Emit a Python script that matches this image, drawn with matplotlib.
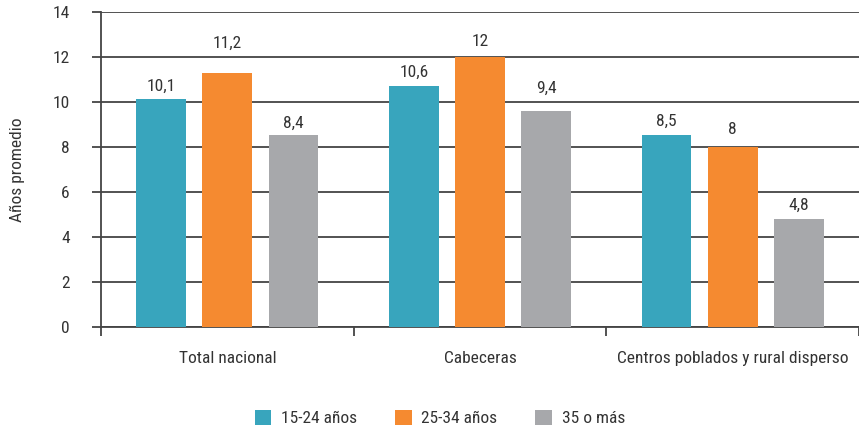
import numpy as np
import matplotlib.pyplot as plt
from matplotlib import rc, font_manager

nombres = sorted({f.name for f in font_manager.fontManager.ttflist})
narrow = [n for n in ['Liberation Sans Narrow', 'DejaVu Sans Condensed', 'Roboto Condensed',
                      'Open Sans Condensed'] if n in nombres]
rc('font', family=narrow + ['Liberation Sans', 'DejaVu Sans'])

categorias = ['Total nacional', 'Cabeceras', 'Centros poblados y rural disperso']
series = ['15-24 años', '25-34 años', '35 o más']
valores = [
    [10.15, 10.7, 8.55],   # 15-24 años
    [11.3, 12.0, 7.98],    # 25-34 años
    [8.55, 9.58, 4.8],     # 35 o más
]
etiquetas = [
    ['10,1', '10,6', '8,5'],
    ['11,2', '12', '8'],
    ['8,4', '9,4', '4,8'],
]
# separación de cada etiqueta sobre su barra (px), como en el original
sep_etiq = [
    [5, 6, 6],
    [22, 8, 10],
    [4, 16, 6],
]
colores = ['#38a5bd', '#f58a30', '#a7a8ab']
txt = '#333333'
linea = '#444444'
fs = 12.5

fig = plt.figure(figsize=(8.59, 4.34), dpi=100)
fig.patch.set_facecolor('white')
ax = fig.add_axes([0.1176, 0.2465, 0.8824, 0.7259])

x = np.arange(len(categorias))
ancho = 0.197
paso = 0.262
for i, (vals, labs, col) in enumerate(zip(valores, etiquetas, colores)):
    pos = x + (i - 1) * paso
    ax.bar(pos, vals, width=ancho, color=col, label=series[i], zorder=3)
    for p, v, l, s in zip(pos, vals, labs, sep_etiq[i]):
        ax.annotate(l, (p, v), xytext=(0, s * 0.72), textcoords='offset points',
                    ha='center', va='bottom', fontsize=fs, color=txt)

ax.set_ylim(0, 14)
ax.set_xlim(-0.5, 2.5)
ax.set_yticks(range(0, 15, 2))
ax.yaxis.grid(True, color=linea, linewidth=1.3, zorder=0)
ax.tick_params(axis='y', length=6.5, width=1.3, color=linea, labelsize=fs,
               labelcolor=txt, pad=16)
ax.set_xticks(x)
ax.set_xticklabels(categorias)
ax.tick_params(axis='x', which='major', length=0, labelsize=fs, labelcolor=txt, pad=17)
ax.set_xticks([-0.5, 0.5, 1.5, 2.5], minor=True)
ax.tick_params(axis='x', which='minor', length=6.5, width=1.3, color=linea)

for s in ['top', 'right']:
    ax.spines[s].set_visible(False)
ax.spines['left'].set_color(linea)
ax.spines['left'].set_linewidth(1.3)
ax.spines['bottom'].set_color(linea)
ax.spines['bottom'].set_linewidth(1.3)

ax.set_ylabel('Años promedio', fontsize=fs, color=txt, labelpad=20)

ax.legend(loc='center', bbox_to_anchor=(0.447, -0.289), ncol=3, frameon=False,
          fontsize=fs, handlelength=0.95, handleheight=0.95, columnspacing=2.2,
          handletextpad=0.55, labelcolor=txt)

plt.savefig('out.png', dpi=100)
